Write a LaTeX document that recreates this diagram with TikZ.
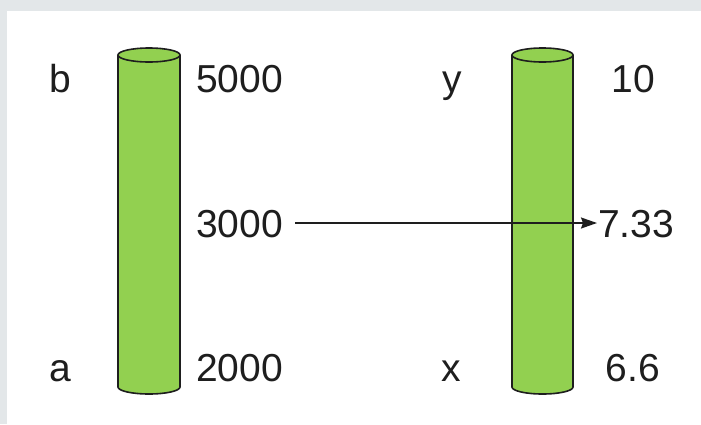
\documentclass[tikz,border=0pt]{standalone}
\usepackage{fontspec}
\setmainfont{Liberation Sans}
\usetikzlibrary{arrows.meta}
\definecolor{framegrey}{HTML}{E3E7E9}
\definecolor{cylgreen}{HTML}{92D050}
\definecolor{ink}{HTML}{1E1E1E}
\tikzset{
  lbl/.style={inner sep=0pt, text=ink, font=\fontsize{39}{46}\selectfont, text height=28pt, text depth=0pt},
  cyl/.style={fill=cylgreen, draw=ink, line width=1.6pt},
  conn/.style={draw=ink, line width=1.6pt, -{Stealth[length=16pt,width=11pt,inset=2pt]}}
}
\newcommand{\mycyl}[4]{% center x, top y, bottom y, rx
  \path[cyl] (#1-#4,#2) -- (#1-#4,#3) arc[start angle=180,end angle=0,x radius=#4,y radius=7] -- (#1+#4,#2) arc[start angle=0,end angle=-180,x radius=#4,y radius=7] -- cycle;
  \draw[ink, line width=1.6pt] (#1-#4,#2) arc[start angle=180,end angle=0,x radius=#4,y radius=7];
}
\begin{document}
\begin{tikzpicture}[x=1pt,y=-1pt]
\useasboundingbox (0,0) rectangle (701,424);
\fill[framegrey] (0,0) rectangle (701,424);
\fill[white] (7,11) rectangle (701,424);
\mycyl{149}{55}{387}{31}
\mycyl{542.5}{55}{387}{30.5}
\node[lbl, anchor=base] (b) at (60,92) {b};
\node[lbl, anchor=base west] (n5000) at (196,92) {5000};
\node[lbl, anchor=base west] (n3000) at (196,237) {3000};
\node[lbl, anchor=base] (a) at (60,381) {a};
\node[lbl, anchor=base west] (n2000) at (196,381) {2000};
\node[lbl, anchor=base] (y) at (452,92) {y};
\node[lbl, anchor=base] (n10) at (633,92) {10};
\node[lbl, anchor=base west] (n733) at (598,237) {7.33};
\node[lbl, anchor=base] (x) at (451,381) {x};
\node[lbl, anchor=base] (n66) at (633,381) {6.6};
\draw[conn] ([xshift=12pt]n3000.east) -- ([xshift=-1pt]n733.west);
\end{tikzpicture}
\end{document}
